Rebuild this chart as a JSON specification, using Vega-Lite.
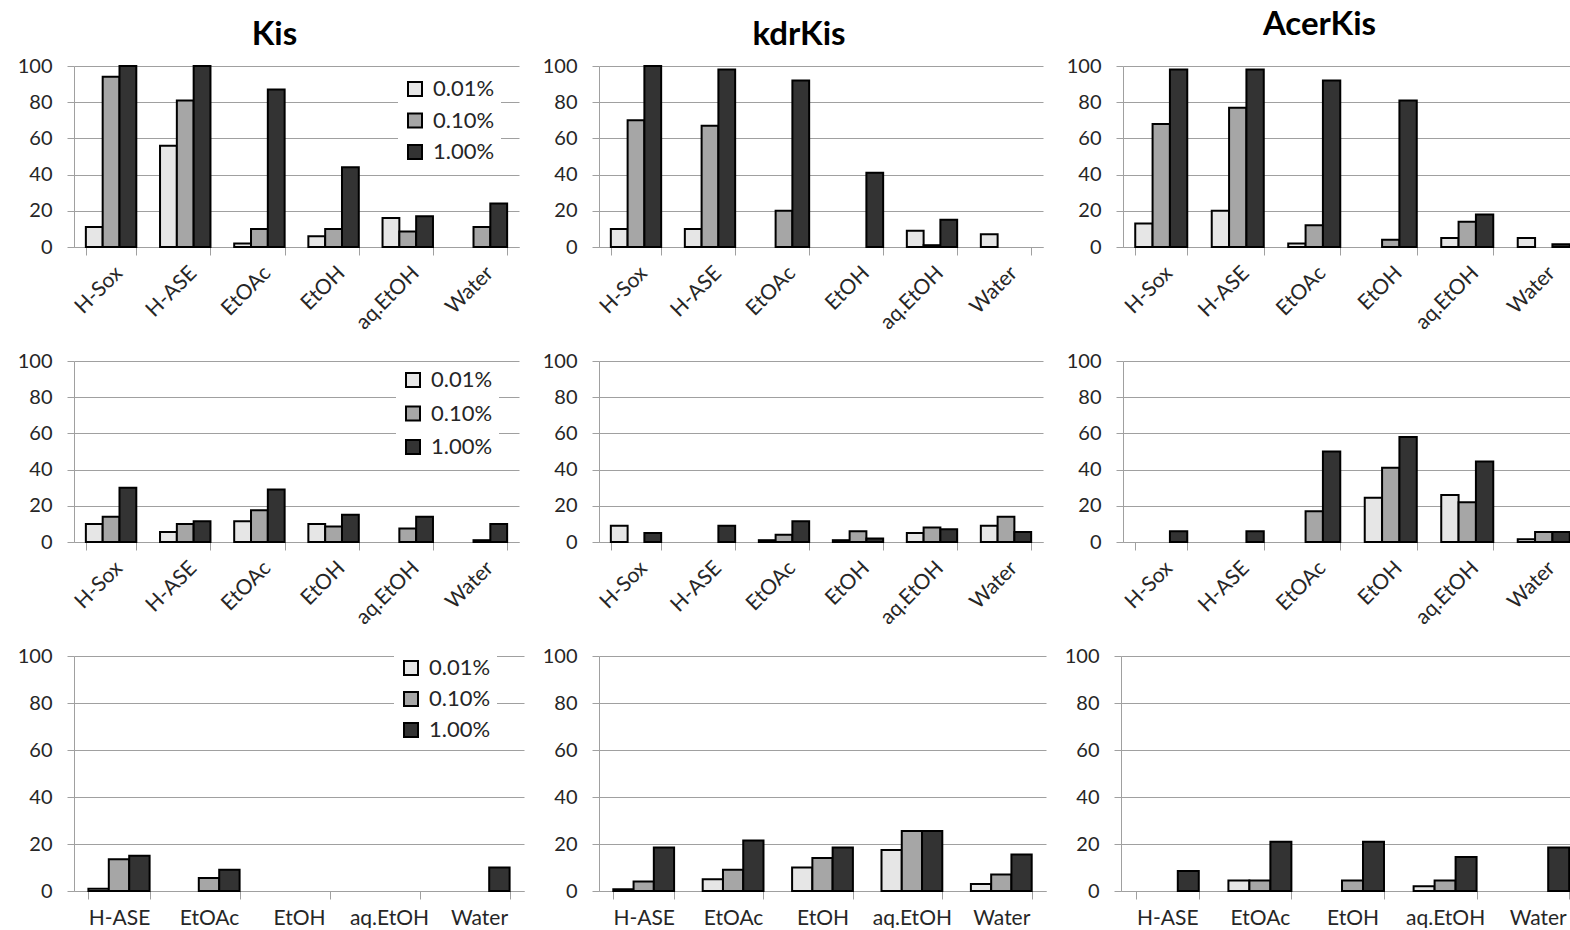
{
  "$schema": "https://vega.github.io/schema/vega-lite/v6.json",
  "background": "white",
  "padding": {"left": 17, "top": 9, "right": 0, "bottom": 0},
  "bounds": "flush",
  "spacing": 295,
  "resolve": {"scale": {"x": "independent", "y": "independent", "xOffset": "independent", "color": "independent"}, "legend": {"color": "independent"}},
  "datasets": {
    "k1": [
      {"solvent": "H-Sox", "conc": "0.01%", "value": 11}, {"solvent": "H-Sox", "conc": "0.10%", "value": 94}, {"solvent": "H-Sox", "conc": "1.00%", "value": 100},
      {"solvent": "H-ASE", "conc": "0.01%", "value": 56}, {"solvent": "H-ASE", "conc": "0.10%", "value": 81}, {"solvent": "H-ASE", "conc": "1.00%", "value": 100},
      {"solvent": "EtOAc", "conc": "0.01%", "value": 2}, {"solvent": "EtOAc", "conc": "0.10%", "value": 10}, {"solvent": "EtOAc", "conc": "1.00%", "value": 87},
      {"solvent": "EtOH", "conc": "0.01%", "value": 6}, {"solvent": "EtOH", "conc": "0.10%", "value": 10}, {"solvent": "EtOH", "conc": "1.00%", "value": 44},
      {"solvent": "aq.EtOH", "conc": "0.01%", "value": 16}, {"solvent": "aq.EtOH", "conc": "0.10%", "value": 8.5}, {"solvent": "aq.EtOH", "conc": "1.00%", "value": 17},
      {"solvent": "Water", "conc": "0.10%", "value": 11}, {"solvent": "Water", "conc": "1.00%", "value": 24}
    ],
    "d1": [
      {"solvent": "H-Sox", "conc": "0.01%", "value": 10}, {"solvent": "H-Sox", "conc": "0.10%", "value": 70}, {"solvent": "H-Sox", "conc": "1.00%", "value": 100},
      {"solvent": "H-ASE", "conc": "0.01%", "value": 10}, {"solvent": "H-ASE", "conc": "0.10%", "value": 67}, {"solvent": "H-ASE", "conc": "1.00%", "value": 98},
      {"solvent": "EtOAc", "conc": "0.10%", "value": 20}, {"solvent": "EtOAc", "conc": "1.00%", "value": 92},
      {"solvent": "EtOH", "conc": "1.00%", "value": 41},
      {"solvent": "aq.EtOH", "conc": "0.01%", "value": 9}, {"solvent": "aq.EtOH", "conc": "0.10%", "value": 1}, {"solvent": "aq.EtOH", "conc": "1.00%", "value": 15},
      {"solvent": "Water", "conc": "0.01%", "value": 7}
    ],
    "a1": [
      {"solvent": "H-Sox", "conc": "0.01%", "value": 13}, {"solvent": "H-Sox", "conc": "0.10%", "value": 68}, {"solvent": "H-Sox", "conc": "1.00%", "value": 98},
      {"solvent": "H-ASE", "conc": "0.01%", "value": 20}, {"solvent": "H-ASE", "conc": "0.10%", "value": 77}, {"solvent": "H-ASE", "conc": "1.00%", "value": 98},
      {"solvent": "EtOAc", "conc": "0.01%", "value": 2}, {"solvent": "EtOAc", "conc": "0.10%", "value": 12}, {"solvent": "EtOAc", "conc": "1.00%", "value": 92},
      {"solvent": "EtOH", "conc": "0.10%", "value": 4}, {"solvent": "EtOH", "conc": "1.00%", "value": 81},
      {"solvent": "aq.EtOH", "conc": "0.01%", "value": 5}, {"solvent": "aq.EtOH", "conc": "0.10%", "value": 14}, {"solvent": "aq.EtOH", "conc": "1.00%", "value": 18},
      {"solvent": "Water", "conc": "0.01%", "value": 5}, {"solvent": "Water", "conc": "1.00%", "value": 1.5}
    ],
    "k2": [
      {"solvent": "H-Sox", "conc": "0.01%", "value": 10}, {"solvent": "H-Sox", "conc": "0.10%", "value": 14}, {"solvent": "H-Sox", "conc": "1.00%", "value": 30},
      {"solvent": "H-ASE", "conc": "0.01%", "value": 5.5}, {"solvent": "H-ASE", "conc": "0.10%", "value": 10}, {"solvent": "H-ASE", "conc": "1.00%", "value": 11.5},
      {"solvent": "EtOAc", "conc": "0.01%", "value": 11.5}, {"solvent": "EtOAc", "conc": "0.10%", "value": 17.5}, {"solvent": "EtOAc", "conc": "1.00%", "value": 29},
      {"solvent": "EtOH", "conc": "0.01%", "value": 10}, {"solvent": "EtOH", "conc": "0.10%", "value": 8.5}, {"solvent": "EtOH", "conc": "1.00%", "value": 15},
      {"solvent": "aq.EtOH", "conc": "0.10%", "value": 7.5}, {"solvent": "aq.EtOH", "conc": "1.00%", "value": 14},
      {"solvent": "Water", "conc": "0.10%", "value": 1}, {"solvent": "Water", "conc": "1.00%", "value": 10}
    ],
    "d2": [
      {"solvent": "H-Sox", "conc": "0.01%", "value": 9}, {"solvent": "H-Sox", "conc": "1.00%", "value": 5},
      {"solvent": "H-ASE", "conc": "1.00%", "value": 9},
      {"solvent": "EtOAc", "conc": "0.01%", "value": 1}, {"solvent": "EtOAc", "conc": "0.10%", "value": 4}, {"solvent": "EtOAc", "conc": "1.00%", "value": 11.5},
      {"solvent": "EtOH", "conc": "0.01%", "value": 1}, {"solvent": "EtOH", "conc": "0.10%", "value": 6}, {"solvent": "EtOH", "conc": "1.00%", "value": 2},
      {"solvent": "aq.EtOH", "conc": "0.01%", "value": 5}, {"solvent": "aq.EtOH", "conc": "0.10%", "value": 8}, {"solvent": "aq.EtOH", "conc": "1.00%", "value": 7},
      {"solvent": "Water", "conc": "0.01%", "value": 9}, {"solvent": "Water", "conc": "0.10%", "value": 14}, {"solvent": "Water", "conc": "1.00%", "value": 5.5}
    ],
    "a2": [
      {"solvent": "H-Sox", "conc": "1.00%", "value": 6},
      {"solvent": "H-ASE", "conc": "1.00%", "value": 6},
      {"solvent": "EtOAc", "conc": "0.10%", "value": 17}, {"solvent": "EtOAc", "conc": "1.00%", "value": 50},
      {"solvent": "EtOH", "conc": "0.01%", "value": 24.5}, {"solvent": "EtOH", "conc": "0.10%", "value": 41}, {"solvent": "EtOH", "conc": "1.00%", "value": 58},
      {"solvent": "aq.EtOH", "conc": "0.01%", "value": 26}, {"solvent": "aq.EtOH", "conc": "0.10%", "value": 22}, {"solvent": "aq.EtOH", "conc": "1.00%", "value": 44.5},
      {"solvent": "Water", "conc": "0.01%", "value": 1.5}, {"solvent": "Water", "conc": "0.10%", "value": 5.5}, {"solvent": "Water", "conc": "1.00%", "value": 5.5}
    ],
    "k3": [
      {"solvent": "H-ASE", "conc": "0.01%", "value": 1}, {"solvent": "H-ASE", "conc": "0.10%", "value": 13.5}, {"solvent": "H-ASE", "conc": "1.00%", "value": 15},
      {"solvent": "EtOAc", "conc": "0.10%", "value": 5.5}, {"solvent": "EtOAc", "conc": "1.00%", "value": 9},
      {"solvent": "Water", "conc": "1.00%", "value": 10}
    ],
    "d3": [
      {"solvent": "H-ASE", "conc": "0.01%", "value": 0.7}, {"solvent": "H-ASE", "conc": "0.10%", "value": 4}, {"solvent": "H-ASE", "conc": "1.00%", "value": 18.5},
      {"solvent": "EtOAc", "conc": "0.01%", "value": 5}, {"solvent": "EtOAc", "conc": "0.10%", "value": 9}, {"solvent": "EtOAc", "conc": "1.00%", "value": 21.5},
      {"solvent": "EtOH", "conc": "0.01%", "value": 10}, {"solvent": "EtOH", "conc": "0.10%", "value": 14}, {"solvent": "EtOH", "conc": "1.00%", "value": 18.5},
      {"solvent": "aq.EtOH", "conc": "0.01%", "value": 17.5}, {"solvent": "aq.EtOH", "conc": "0.10%", "value": 25.5}, {"solvent": "aq.EtOH", "conc": "1.00%", "value": 25.5},
      {"solvent": "Water", "conc": "0.01%", "value": 3}, {"solvent": "Water", "conc": "0.10%", "value": 7}, {"solvent": "Water", "conc": "1.00%", "value": 15.5}
    ],
    "a3": [
      {"solvent": "H-ASE", "conc": "1.00%", "value": 8.5},
      {"solvent": "EtOAc", "conc": "0.01%", "value": 4.5}, {"solvent": "EtOAc", "conc": "0.10%", "value": 4.5}, {"solvent": "EtOAc", "conc": "1.00%", "value": 21},
      {"solvent": "EtOH", "conc": "0.10%", "value": 4.5}, {"solvent": "EtOH", "conc": "1.00%", "value": 21},
      {"solvent": "aq.EtOH", "conc": "0.01%", "value": 2}, {"solvent": "aq.EtOH", "conc": "0.10%", "value": 4.5}, {"solvent": "aq.EtOH", "conc": "1.00%", "value": 14.5},
      {"solvent": "Water", "conc": "1.00%", "value": 18.5}
    ]
  },
  "vconcat": [
    {
      "bounds": "flush",
      "spacing": 80,
      "resolve": {"scale": {"x": "independent", "y": "independent", "xOffset": "independent", "color": "independent"}, "legend": {"color": "independent"}},
      "hconcat": [
        {
          "data": {"name": "k1"}, "width": 445, "height": 181,
          "title": {"text": "Kis", "offset": 14, "dx": -22, "dy": 10},
          "mark": {"type": "bar", "stroke": "black", "strokeWidth": 2},
          "encoding": {
            "x": {"field": "solvent", "type": "nominal", "title": null, "scale": {"domain": ["H-Sox", "H-ASE", "EtOAc", "EtOH", "aq.EtOH", "Water"], "paddingInner": 0.32, "paddingOuter": 0.16}, "axis": {"labelAngle": -45, "labelPadding": 7, "labelFontSize": 21}},
            "xOffset": {"field": "conc", "type": "nominal", "scale": {"domain": ["0.01%", "0.10%", "1.00%"], "paddingInner": 0, "paddingOuter": 0}},
            "y": {"field": "value", "type": "quantitative", "title": null, "scale": {"domain": [0, 100], "nice": false}},
            "color": {"field": "conc", "type": "nominal", "scale": {"domain": ["0.01%", "0.10%", "1.00%"], "range": ["#e6e6e6", "#a6a6a6", "#333333"]}, "legend": {"orient": "none", "legendX": 324, "legendY": 6, "rowPadding": 9.5}}
          }
        },
        {
          "data": {"name": "d1"}, "width": 444, "height": 181,
          "title": {"text": "kdrKis", "offset": 14, "dx": -22, "dy": 10},
          "mark": {"type": "bar", "stroke": "black", "strokeWidth": 2},
          "encoding": {
            "x": {"field": "solvent", "type": "nominal", "title": null, "scale": {"domain": ["H-Sox", "H-ASE", "EtOAc", "EtOH", "aq.EtOH", "Water"], "paddingInner": 0.32, "paddingOuter": 0.16}, "axis": {"labelAngle": -45, "labelPadding": 7, "labelFontSize": 21}},
            "xOffset": {"field": "conc", "type": "nominal", "scale": {"domain": ["0.01%", "0.10%", "1.00%"], "paddingInner": 0, "paddingOuter": 0}},
            "y": {"field": "value", "type": "quantitative", "title": null, "scale": {"domain": [0, 100], "nice": false}},
            "color": {"field": "conc", "type": "nominal", "scale": {"domain": ["0.01%", "0.10%", "1.00%"], "range": ["#e6e6e6", "#a6a6a6", "#333333"]}, "legend": null}
          }
        },
        {
          "data": {"name": "a1"}, "width": 459, "height": 181,
          "title": {"text": "AcerKis", "offset": 14, "dx": -33},
          "mark": {"type": "bar", "stroke": "black", "strokeWidth": 2},
          "encoding": {
            "x": {"field": "solvent", "type": "nominal", "title": null, "scale": {"domain": ["H-Sox", "H-ASE", "EtOAc", "EtOH", "aq.EtOH", "Water"], "paddingInner": 0.32, "paddingOuter": 0.16}, "axis": {"labelAngle": -45, "labelPadding": 7, "labelFontSize": 21}},
            "xOffset": {"field": "conc", "type": "nominal", "scale": {"domain": ["0.01%", "0.10%", "1.00%"], "paddingInner": 0, "paddingOuter": 0}},
            "y": {"field": "value", "type": "quantitative", "title": null, "scale": {"domain": [0, 100], "nice": false}},
            "color": {"field": "conc", "type": "nominal", "scale": {"domain": ["0.01%", "0.10%", "1.00%"], "range": ["#e6e6e6", "#a6a6a6", "#333333"]}, "legend": null}
          }
        }
      ]
    },
    {
      "bounds": "flush",
      "spacing": 80,
      "resolve": {"scale": {"x": "independent", "y": "independent", "xOffset": "independent", "color": "independent"}, "legend": {"color": "independent"}},
      "hconcat": [
        {
          "data": {"name": "k2"}, "width": 445, "height": 181,
          "mark": {"type": "bar", "stroke": "black", "strokeWidth": 2},
          "encoding": {
            "x": {"field": "solvent", "type": "nominal", "title": null, "scale": {"domain": ["H-Sox", "H-ASE", "EtOAc", "EtOH", "aq.EtOH", "Water"], "paddingInner": 0.32, "paddingOuter": 0.16}, "axis": {"labelAngle": -45, "labelPadding": 7, "labelFontSize": 21}},
            "xOffset": {"field": "conc", "type": "nominal", "scale": {"domain": ["0.01%", "0.10%", "1.00%"], "paddingInner": 0, "paddingOuter": 0}},
            "y": {"field": "value", "type": "quantitative", "title": null, "scale": {"domain": [0, 100], "nice": false}},
            "color": {"field": "conc", "type": "nominal", "scale": {"domain": ["0.01%", "0.10%", "1.00%"], "range": ["#e6e6e6", "#a6a6a6", "#333333"]}, "legend": {"orient": "none", "legendX": 322, "legendY": 2, "rowPadding": 11.5}}
          }
        },
        {
          "data": {"name": "d2"}, "width": 444, "height": 181,
          "mark": {"type": "bar", "stroke": "black", "strokeWidth": 2},
          "encoding": {
            "x": {"field": "solvent", "type": "nominal", "title": null, "scale": {"domain": ["H-Sox", "H-ASE", "EtOAc", "EtOH", "aq.EtOH", "Water"], "paddingInner": 0.32, "paddingOuter": 0.16}, "axis": {"labelAngle": -45, "labelPadding": 7, "labelFontSize": 21}},
            "xOffset": {"field": "conc", "type": "nominal", "scale": {"domain": ["0.01%", "0.10%", "1.00%"], "paddingInner": 0, "paddingOuter": 0}},
            "y": {"field": "value", "type": "quantitative", "title": null, "scale": {"domain": [0, 100], "nice": false}},
            "color": {"field": "conc", "type": "nominal", "scale": {"domain": ["0.01%", "0.10%", "1.00%"], "range": ["#e6e6e6", "#a6a6a6", "#333333"]}, "legend": null}
          }
        },
        {
          "data": {"name": "a2"}, "width": 459, "height": 181,
          "mark": {"type": "bar", "stroke": "black", "strokeWidth": 2},
          "encoding": {
            "x": {"field": "solvent", "type": "nominal", "title": null, "scale": {"domain": ["H-Sox", "H-ASE", "EtOAc", "EtOH", "aq.EtOH", "Water"], "paddingInner": 0.32, "paddingOuter": 0.16}, "axis": {"labelAngle": -45, "labelPadding": 7, "labelFontSize": 21}},
            "xOffset": {"field": "conc", "type": "nominal", "scale": {"domain": ["0.01%", "0.10%", "1.00%"], "paddingInner": 0, "paddingOuter": 0}},
            "y": {"field": "value", "type": "quantitative", "title": null, "scale": {"domain": [0, 100], "nice": false}},
            "color": {"field": "conc", "type": "nominal", "scale": {"domain": ["0.01%", "0.10%", "1.00%"], "range": ["#e6e6e6", "#a6a6a6", "#333333"]}, "legend": null}
          }
        }
      ]
    },
    {
      "bounds": "flush",
      "spacing": 75,
      "resolve": {"scale": {"x": "independent", "y": "independent", "xOffset": "independent", "color": "independent"}, "legend": {"color": "independent"}},
      "hconcat": [
        {
          "data": {"name": "k3"}, "width": 450, "height": 235,
          "mark": {"type": "bar", "stroke": "black", "strokeWidth": 2},
          "encoding": {
            "x": {"field": "solvent", "type": "nominal", "title": null, "scale": {"domain": ["H-ASE", "EtOAc", "EtOH", "aq.EtOH", "Water"], "paddingInner": 0.32, "paddingOuter": 0.16}, "axis": {"labelAngle": 0, "labelPadding": 8, "labelFontSize": 21}},
            "xOffset": {"field": "conc", "type": "nominal", "scale": {"domain": ["0.01%", "0.10%", "1.00%"], "paddingInner": 0, "paddingOuter": 0}},
            "y": {"field": "value", "type": "quantitative", "title": null, "scale": {"domain": [0, 100], "nice": false}},
            "color": {"field": "conc", "type": "nominal", "scale": {"domain": ["0.01%", "0.10%", "1.00%"], "range": ["#e6e6e6", "#a6a6a6", "#333333"]}, "legend": {"orient": "none", "legendX": 320, "legendY": -5, "rowPadding": 9}}
          }
        },
        {
          "data": {"name": "d3"}, "width": 447, "height": 235,
          "mark": {"type": "bar", "stroke": "black", "strokeWidth": 2},
          "encoding": {
            "x": {"field": "solvent", "type": "nominal", "title": null, "scale": {"domain": ["H-ASE", "EtOAc", "EtOH", "aq.EtOH", "Water"], "paddingInner": 0.32, "paddingOuter": 0.16}, "axis": {"labelAngle": 0, "labelPadding": 8, "labelFontSize": 21}},
            "xOffset": {"field": "conc", "type": "nominal", "scale": {"domain": ["0.01%", "0.10%", "1.00%"], "paddingInner": 0, "paddingOuter": 0}},
            "y": {"field": "value", "type": "quantitative", "title": null, "scale": {"domain": [0, 100], "nice": false}},
            "color": {"field": "conc", "type": "nominal", "scale": {"domain": ["0.01%", "0.10%", "1.00%"], "range": ["#e6e6e6", "#a6a6a6", "#333333"]}, "legend": null}
          }
        },
        {
          "data": {"name": "a3"}, "width": 463, "height": 235,
          "mark": {"type": "bar", "stroke": "black", "strokeWidth": 2},
          "encoding": {
            "x": {"field": "solvent", "type": "nominal", "title": null, "scale": {"domain": ["H-ASE", "EtOAc", "EtOH", "aq.EtOH", "Water"], "paddingInner": 0.32, "paddingOuter": 0.16}, "axis": {"labelAngle": 0, "labelPadding": 8, "labelFontSize": 21}},
            "xOffset": {"field": "conc", "type": "nominal", "scale": {"domain": ["0.01%", "0.10%", "1.00%"], "paddingInner": 0, "paddingOuter": 0}},
            "y": {"field": "value", "type": "quantitative", "title": null, "scale": {"domain": [0, 100], "nice": false}},
            "color": {"field": "conc", "type": "nominal", "scale": {"domain": ["0.01%", "0.10%", "1.00%"], "range": ["#e6e6e6", "#a6a6a6", "#333333"]}, "legend": null}
          }
        }
      ]
    }
  ],
  "config": {
    "font": "Lato",
    "view": {"stroke": null},
    "axis": {"labelFont": "Lato", "labelColor": "#262626", "domainColor": "#a0a0a0", "tickColor": "#a0a0a0", "gridColor": "#a0a0a0", "domainWidth": 1, "tickWidth": 1, "gridWidth": 1},
    "axisY": {"values": [0, 20, 40, 60, 80, 100], "grid": true, "tickSize": 7, "labelPadding": 15, "labelFontSize": 20},
    "axisX": {"grid": false, "tickBand": "extent", "tickSize": 8, "labelFontSize": 20, "labelPadding": 4},
    "legend": {"title": null, "labelFont": "Lato", "labelFontSize": 22, "labelColor": "#262626", "symbolType": "square", "symbolSize": 196, "symbolStrokeColor": "black", "symbolStrokeWidth": 2, "symbolOpacity": 1, "fillColor": "white", "padding": 6, "labelOffset": 7},
    "title": {"font": "Lato", "fontSize": 33, "fontWeight": "bold", "color": "black", "anchor": "middle"}
  }
}
